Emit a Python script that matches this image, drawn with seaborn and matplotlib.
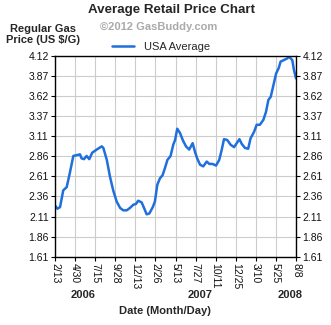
import matplotlib
matplotlib.use("Agg")
import matplotlib.pyplot as plt
import seaborn as sns
import numpy as np
import pandas as pd

# Days since 2006-02-13 and regular gas price (US $/G)
days = [0, 9, 19, 31, 44, 56, 69, 82, 94, 100, 109, 119, 129, 140, 157, 176, 182,
        195, 207, 219, 232, 245, 257, 270, 282, 295, 305, 313, 326, 335, 345, 355,
        368, 376, 385, 395, 405, 414, 423, 435, 445, 452, 460, 470, 482, 493, 505,
        518, 527, 535, 546, 558, 571, 581, 593, 606, 618, 627, 636, 648, 661, 674,
        684, 694, 703, 715, 727, 736, 749, 759, 771, 784, 794, 803, 812, 821, 832,
        842, 849, 862, 874, 881, 893, 899, 907]
price = [2.25, 2.21, 2.23, 2.44, 2.48, 2.66, 2.87, 2.88, 2.89, 2.84, 2.83, 2.87,
         2.83, 2.91, 2.95, 2.99, 2.97, 2.82, 2.61, 2.44, 2.30, 2.22, 2.19, 2.19,
         2.22, 2.26, 2.27, 2.31, 2.29, 2.22, 2.14, 2.15, 2.23, 2.30, 2.51, 2.59,
         2.63, 2.72, 2.82, 2.87, 3.01, 3.07, 3.21, 3.16, 3.06, 2.99, 2.95, 3.03,
         2.92, 2.84, 2.76, 2.74, 2.80, 2.77, 2.77, 2.75, 2.82, 2.94, 3.08, 3.07,
         3.01, 2.98, 3.03, 3.08, 3.02, 2.97, 2.96, 3.09, 3.17, 3.26, 3.26, 3.32,
         3.42, 3.57, 3.61, 3.74, 3.90, 3.97, 4.05, 4.07, 4.09, 4.11, 4.07, 3.95, 3.84]

x_tick_labels = ["2/13", "4/30", "7/15", "9/28", "12/13", "2/26", "5/13", "7/27",
                 "10/11", "12/25", "3/10", "5/25", "8/8"]
y_tick_labels = ["1.61", "1.86", "2.11", "2.36", "2.61", "2.86", "3.11", "3.37",
                 "3.62", "3.87", "4.12"]
year_labels = ["2006", "2007", "2008"]

sns.set_style("white")
plt.rcParams['font.family'] = ['Liberation Sans', 'DejaVu Sans']

df = pd.DataFrame({"day": days, "price": price})

fig = plt.figure(figsize=(3.31, 3.25), dpi=100)
ax = fig.add_axes([55/331, 1-256.7/325, (296-55)/331, (256.7-56)/325])

sns.lineplot(data=df, x="day", y="price", ax=ax, color="#1f6fdc", linewidth=1.8,
             label="USA Average", legend=False)

xt = np.linspace(0, 907, len(x_tick_labels))
yt = np.linspace(1.61, 4.12, len(y_tick_labels))
ax.set_xlim(0, 907)
ax.set_ylim(1.61, 4.12)
ax.set_xticks(xt)
ax.set_xticklabels(x_tick_labels, rotation=-90, fontsize=7.5, color="#111111")
ax.set_yticks(yt)
ax.set_yticklabels(y_tick_labels, fontsize=7.5, color="#111111")
ax.grid(True, color="#cccccc", linewidth=0.8)
ax.set_axisbelow(True)
for s in ax.spines.values():
    s.set_color("black")
    s.set_linewidth(1.0)
ax.tick_params(axis="both", direction="out", length=3, width=0.8, color="black",
               pad=1.5)
ax.tick_params(axis="y", right=True, labelright=True, left=True)
ax.tick_params(axis="x", bottom=True)
ax.set_xlabel("")
ax.set_ylabel("")

fig.text(171/331, 1-10/325, "Average Retail Price Chart", ha="center", va="center",
         fontsize=9.6, fontweight="bold")
fig.text(159/331, 1-26.5/325, "©2012 GasBuddy.com", ha="center", va="center",
         fontsize=8, fontweight="bold", color="#aaaaaa")
fig.text(43/331, 1-34.5/325, "Regular Gas\nPrice (US $/G)", ha="center", va="center",
         fontsize=8, fontweight="bold", linespacing=1.1)

# legend
leg = ax.legend(loc="center left", bbox_to_anchor=(108/331, 1-46.5/325),
                bbox_transform=fig.transFigure, frameon=False, fontsize=8,
                handlelength=1.9, handletextpad=0.9, borderaxespad=0)

for lbl, xp in zip(year_labels, [83, 200, 290]):
    fig.text(xp/331, 1-295/325, lbl, ha="center", va="center", fontsize=8,
             fontweight="bold")
fig.text(165/331, 1-311/325, "Date (Month/Day)", ha="center", va="center",
         fontsize=8, fontweight="bold")

fig.savefig("out.png", dpi=100)
